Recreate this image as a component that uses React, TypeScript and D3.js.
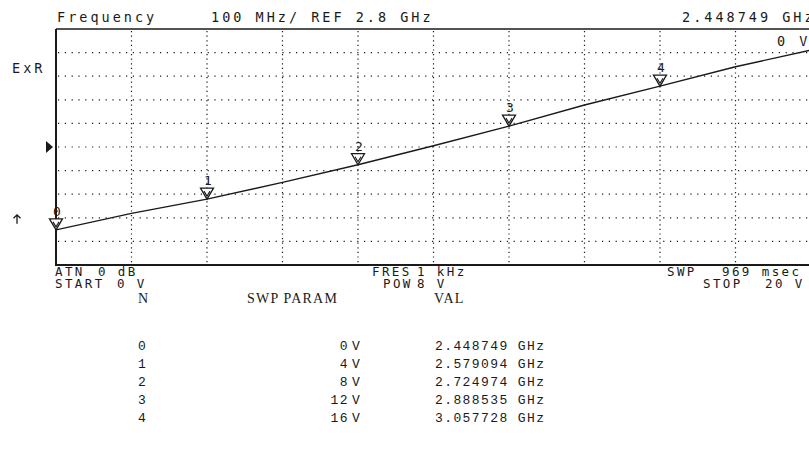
import * as d3 from "d3";

const sweepVolts = [0, 2, 4, 6, 8, 10, 12, 14, 16, 18, 20];
const traceGHz = [2.448749, 2.519, 2.579094, 2.65, 2.724974, 2.8055, 2.888535, 2.978, 3.057728, 3.14, 3.211];

// marker table
const markerN = [0, 1, 2, 3, 4];
const markerVolts = [0, 4, 8, 12, 16];
const markerGHz = [2.448749, 2.579094, 2.724974, 2.888535, 3.057728];

const refGHz = 2.8;
const perDivGHz = 0.1;
const divisions = 10;

const headerLeft = "Frequency";
const headerMid = "100 MHz/ REF 2.8 GHz";
const headerRight = "2.448749 GHz";
const footerLabels = ["ATN", "START", "FRES", "POW", "SWP", "STOP"];
const footerValues = ["0 dB", "0 V", "1 kHz", "8 V", "969 msec", "20 V"];

const W = 809;
const H = 471;
const plot = { left: 56, top: 29, right: 811, bottom: 265 };

const mono = "'DejaVu Sans Mono', monospace";
const ink = "#1a1a1a";

function Txt({ x, y, children, size = 13.5, spacing = 3 }: { x: number; y: number; children: any; size?: number; spacing?: number }) {
  return (
    <text x={x} y={y} fontFamily={mono} fontSize={size} letterSpacing={spacing} fill={ink} xmlSpace="preserve" style={{ whiteSpace: "pre" }}>
      {children}
    </text>
  );
}

export default function App() {
  const x = d3.scaleLinear().domain([0, 20]).range([plot.left, plot.right]);
  const y = d3
    .scaleLinear()
    .domain([refGHz - (divisions / 2) * perDivGHz, refGHz + (divisions / 2) * perDivGHz])
    .range([plot.bottom, plot.top]);

  const xGrid = d3.range(divisions + 1).map((i) => i * 2);
  const yGrid = d3.range(divisions + 1).map((i) => refGHz - 0.5 + i * perDivGHz);

  const line = d3
    .line<number>()
    .x((_, i) => x(sweepVolts[i]))
    .y((d) => y(d));

  const refY = y(refGHz);
  const arrowY = y(2.5) + 1;

  // footer layout: [label x, value x, baseline]
  const row1 = 276;
  const row2 = 287.5;
  const footerPos = [
    [55, 98, row1],
    [55, 117, row2],
    [372, 417, row1],
    [383, 417, row2],
    [667, 722, row1],
    [703, 765, row2],
  ];

  return (
    <svg width={W} height={H} style={{ position: "absolute", left: 0, top: 0, background: "#fff" }}>
      <defs>
        <clipPath id="plotClip">
          <rect x={plot.left} y={plot.top - 20} width={plot.right - plot.left} height={plot.bottom - plot.top + 20} />
        </clipPath>
      </defs>

      {/* grid */}
      {xGrid.slice(1, -1).map((v) => (
        <line key={"gx" + v} x1={x(v)} x2={x(v)} y1={plot.top + 2} y2={plot.bottom} stroke={ink} strokeWidth={1.2} strokeDasharray="1.2 3.4" />
      ))}
      {yGrid.slice(1, -1).map((v, i) => (
        <line key={"gy" + i} x1={plot.left + 2} x2={plot.right} y1={y(v)} y2={y(v)} stroke={ink} strokeWidth={1.2} strokeDasharray="1.2 5.6" />
      ))}

      {/* frame */}
      <line x1={plot.left} x2={W} y1={plot.top} y2={plot.top} stroke={ink} strokeWidth={1.5} />
      <line x1={plot.left} x2={W} y1={plot.bottom} y2={plot.bottom} stroke={ink} strokeWidth={2} />
      <line x1={plot.left} x2={plot.left} y1={plot.top} y2={plot.bottom + 1} stroke={ink} strokeWidth={2} />

      {/* trace */}
      <path d={line(traceGHz) || ""} fill="none" stroke={ink} strokeWidth={1.4} clipPath="url(#plotClip)" />

      {/* markers */}
      {markerN.map((n, i) => {
        const mx = x(markerVolts[i]);
        const my = y(markerGHz[i]);
        return (
          <g key={"m" + n}>
            <path d={`M${mx},${my} L${mx - 6.5},${my - 11} L${mx + 6.5},${my - 11} Z`} fill="#fff" stroke={ink} strokeWidth={1.3} />
            <path d={`M${mx - 3},${my - 8} L${mx},${my - 3} L${mx + 3},${my - 8}`} fill="none" stroke={ink} strokeWidth={1.1} />
            <text x={mx + 1} y={my - 14} fontFamily={mono} fontSize={13} fill={ink} textAnchor="middle">
              {n}
            </text>
          </g>
        );
      })}

      {/* left side symbols */}
      <Txt x={12} y={73}>ExR</Txt>
      <path d={`M${46},${refY - 6} L${53},${refY} L${46},${refY + 6} Z`} fill={ink} />
      <path d={`M17,${arrowY + 5} L17,${arrowY - 4} M13.5,${arrowY - 0.5} L17,${arrowY - 4} L20.5,${arrowY - 0.5}`} fill="none" stroke={ink} strokeWidth={1.3} />

      {/* header */}
      <Txt x={57} y={22}>{headerLeft}</Txt>
      <Txt x={211} y={22}>{headerMid}</Txt>
      <Txt x={682} y={22}>{headerRight}</Txt>
      <Txt x={777} y={46}>{`${markerVolts[0]} V`}</Txt>

      {/* footer */}
      {footerLabels.map((lab, i) => (
        <g key={"f" + i}>
          <Txt x={footerPos[i][0]} y={footerPos[i][2]} size={12.5} spacing={2.4}>{lab}</Txt>
          <Txt x={footerPos[i][1]} y={footerPos[i][2]} size={12.5} spacing={2.4}>{footerValues[i]}</Txt>
        </g>
      ))}

      {/* marker table */}
      <g fontFamily="'Liberation Serif', serif" fontSize={14} fill={ink} letterSpacing={1.2}>
        <text x={138} y={303}>N</text>
        <text x={247} y={303}>SWP PARAM</text>
        <text x={434} y={303}>VAL</text>
      </g>
      <g fontFamily="'Liberation Mono', monospace" fontSize={13} fill={ink} letterSpacing={1.4}>
        {markerN.map((n, i) => {
          const ry = 350 + i * 18;
          return (
            <g key={"r" + n}>
              <text x={138} y={ry}>{n}</text>
              <text x={349} y={ry} textAnchor="end">{markerVolts[i]}</text>
              <text x={352} y={ry}>V</text>
              <text x={435} y={ry}>{`${markerGHz[i].toFixed(6)} GHz`}</text>
            </g>
          );
        })}
      </g>
    </svg>
  );
}
